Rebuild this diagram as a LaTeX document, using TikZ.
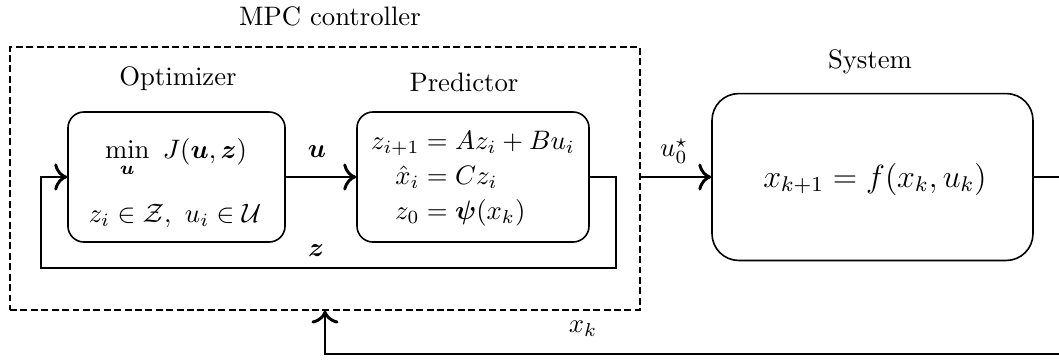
\documentclass[tikz,border=0pt]{standalone}
\usepackage{amsmath,amssymb,bm}
\usetikzlibrary{arrows.meta}
\begin{document}
\begin{tikzpicture}[x=0.3745pt,y=-0.3745pt,
  blk/.style={draw, line width=0.6pt, rounded corners=6pt, inner sep=0pt},
  sysblk/.style={draw, line width=0.6pt, rounded corners=10pt, inner sep=0pt},
  dashbox/.style={draw, line width=0.45pt, dash pattern=on 2.6pt off 1.3pt, inner sep=0pt},
  conn/.style={line width=1.1pt, -{To[scale=1.2]}},
  lab/.style={inner sep=0pt}]
\useasboundingbox (0,0) rectangle (1059,360);

% containers
\node[dashbox, minimum width=235.9pt, minimum height=98.5pt] (mpc) at (325,178.5) {};
\node[blk, minimum width=81.3pt, minimum height=48.7pt] (opt) at (176.5,177) {};
\node[blk, minimum width=86.9pt, minimum height=48.7pt] (pred) at (473,177) {};
\node[sysblk, minimum width=120.2pt, minimum height=62.5pt] (sys) at (872.5,177) {};

% titles
\node[lab] (tmpc) at (330,16) {MPC controller};
\node[lab] (topt) at (178,79) {Optimizer};
\node[lab] (tpred) at (464,82) {Predictor};
\node[lab] (tsys) at (870,62) {System};

% contents
\node[lab, anchor=base] (omin) at (176,158) {$\min\limits_{\bm u}\ J(\bm u,\bm z)$};
\node[lab, anchor=base] (ocon) at (175,222) {$z_i\in\mathcal{Z},\ u_i\in\mathcal{U}$};
\node[lab] (peq) at (473,178) {$\begin{array}{@{}r@{}l@{}}
  z_{i+1} & {}= Az_i + Bu_i\\[1pt]
  \hat{x}_i & {}= Cz_i\\[1pt]
  z_0 & {}= \bm{\psi}(x_k)
\end{array}$};
\node[lab] (seq) at (875,179) {\large $x_{k+1}=f(x_k,u_k)$};

% connectors
\coordinate (r1) at (616,268);
\coordinate (l1) at (41,268);
\coordinate (fb) at (325,354);
\draw[conn] (opt.east) -- (pred.west);
\draw[conn] (pred.east) -| (r1) -- (l1) |- (opt.west);
\draw[conn] (mpc.east |- sys.west) -- (sys.west);
\draw[conn] (sys.east) -- ++(60,0) |- (fb) -- (mpc.south);

% connector labels
\node[lab] (lu) at (317,152) {$\bm u$};
\node[lab] (lz) at (316,251) {$\bm z$};
\node[lab] (lu0) at (674,151) {$u_0^\star$};
\node[lab] (lxk) at (583,329) {$x_k$};
\end{tikzpicture}
\end{document}
